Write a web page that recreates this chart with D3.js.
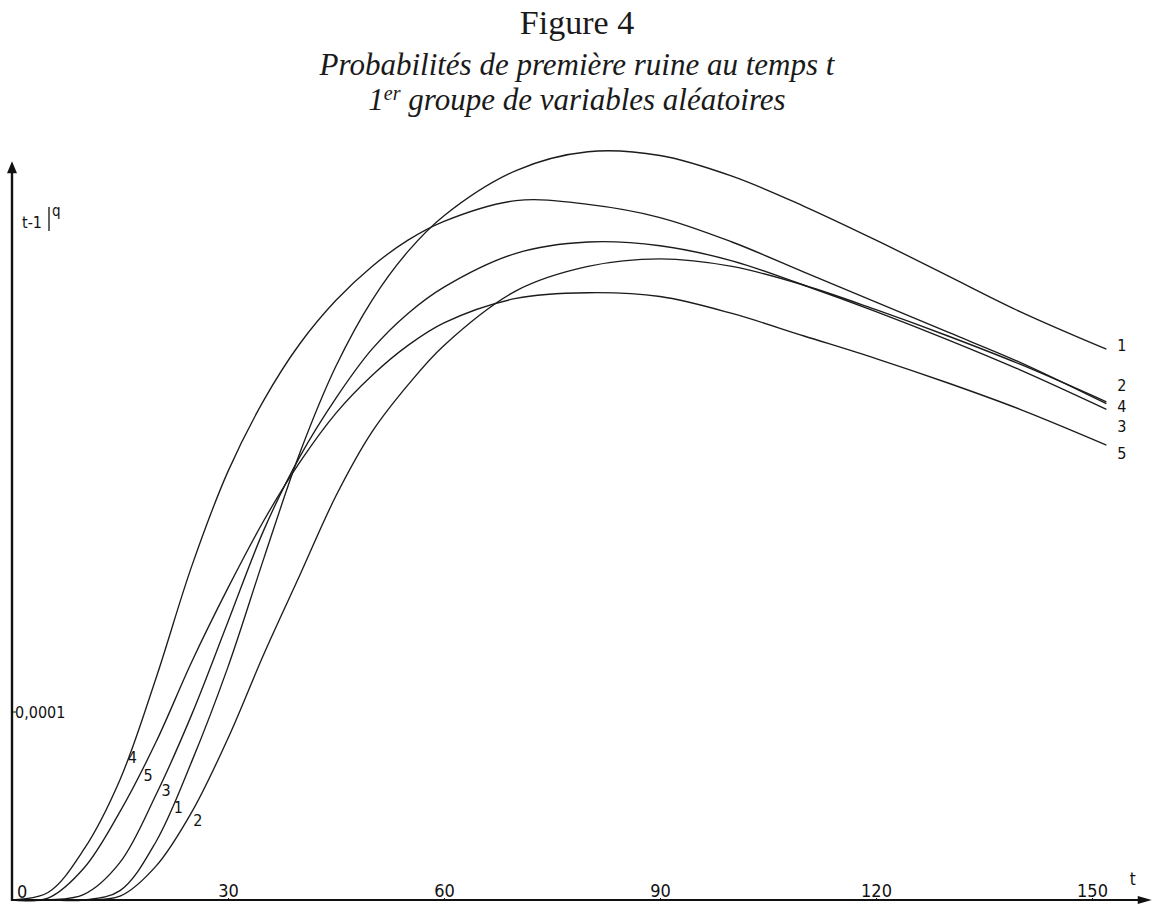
<!DOCTYPE html>
<html>
<head>
<meta charset="utf-8">
<script src="https://cdn.jsdelivr.net/npm/d3@7"></script>
<style>
  body { margin: 0; background: #fff; }
  svg { display: block; }
  .num { font-family: "Liberation Sans Narrow", "DejaVu Sans Condensed", sans-serif; fill: #111; }
  .ttl { font-family: "Liberation Serif", "Times New Roman", serif; fill: #1a1a1a; }
</style>
</head>
<body>
<svg id="chart" width="1154" height="904"></svg>
<script>
// t values shared by every curve
const tGrid = [0, 5, 10, 15, 20, 25, 30, 35, 40, 45, 50, 55, 60, 70, 80, 90, 100, 110, 120, 130, 140, 152];

// values in units of 0,0001
const curve1 = [0, 0, 0, 0.05, 0.31, 0.74, 1.24, 1.82, 2.38, 2.84, 3.19, 3.45, 3.64, 3.88, 3.98, 3.96, 3.85, 3.69, 3.51, 3.32, 3.13, 2.93];
const curve2 = [0, 0, 0, 0.02, 0.18, 0.47, 0.86, 1.31, 1.73, 2.15, 2.49, 2.74, 2.95, 3.24, 3.37, 3.41, 3.37, 3.27, 3.14, 3.00, 2.85, 2.65];
const curve3 = [0, 0, 0.03, 0.20, 0.56, 0.99, 1.48, 1.97, 2.36, 2.67, 2.93, 3.12, 3.26, 3.44, 3.50, 3.48, 3.40, 3.27, 3.13, 2.98, 2.82, 2.61];
const curve4 = [0, 0.04, 0.27, 0.64, 1.18, 1.78, 2.28, 2.66, 2.96, 3.19, 3.37, 3.51, 3.61, 3.72, 3.70, 3.63, 3.50, 3.34, 3.18, 3.02, 2.86, 2.64];
const curve5 = [0, 0.01, 0.17, 0.47, 0.84, 1.27, 1.66, 2.02, 2.33, 2.59, 2.79, 2.95, 3.07, 3.20, 3.23, 3.21, 3.12, 3.00, 2.88, 2.75, 2.61, 2.42];

const seriesNames = ["1", "2", "3", "4", "5"];
const seriesValues = [curve1, curve2, curve3, curve4, curve5];

const xTicks = [30, 60, 90, 120, 150];
const yTicks = [1];
const yTickLabels = ["0,0001"];

// label anchors in data coordinates [t, value]
const endLabels = { "1": [153.5, 2.95], "2": [153.5, 2.74], "4": [153.5, 2.63], "3": [153.5, 2.52], "5": [153.5, 2.38] };
const startLabels = { "4": [16.7, 0.76], "5": [18.9, 0.665], "3": [21.4, 0.585], "1": [23.1, 0.495], "2": [25.8, 0.425] };

const svg = d3.select("#chart");

const x = d3.scaleLinear().domain([0, 150]).range([12, 1092]);
const y = d3.scaleLinear().domain([0, 1]).range([900, 712]);

const xEnd = 158.3;   // where the t axis stops
const yEnd = 3.93;    // where the q axis stops

// titles
svg.append("text").attr("class", "ttl")
  .attr("x", 577).attr("y", 34)
  .attr("text-anchor", "middle")
  .style("font-size", "34px")
  .text("Figure 4");

svg.append("text").attr("class", "ttl")
  .attr("x", 577).attr("y", 75)
  .attr("text-anchor", "middle")
  .style("font-size", "31px").style("font-style", "italic")
  .text("Probabilités de première ruine au temps t");

const sub = svg.append("text").attr("class", "ttl")
  .attr("x", 577).attr("y", 110)
  .attr("text-anchor", "middle")
  .style("font-size", "31px").style("font-style", "italic");
sub.append("tspan").text("1");
sub.append("tspan").attr("dy", -10).style("font-size", "20px").text("er");
sub.append("tspan").attr("dy", 10).text(" groupe de variables aléatoires");

// curves
const line = d3.line()
  .x((d, i) => x(tGrid[i]))
  .y(d => y(d))
  .curve(d3.curveCatmullRom.alpha(0.5));

svg.append("g")
  .attr("class", "curves")
  .selectAll("path")
  .data(seriesValues)
  .enter()
  .append("path")
  .attr("d", d => line(d))
  .style("fill", "none")
  .style("stroke", "#1c1c1c")
  .style("stroke-width", 1.35);

// axes
const axes = svg.append("g").attr("class", "axes");

axes.append("line")
  .attr("x1", x(0)).attr("y1", y(0))
  .attr("x2", x(xEnd) - 6).attr("y2", y(0))
  .style("stroke", "#111").style("stroke-width", 2.2);

axes.append("path")
  .attr("d", `M${x(xEnd)},${y(0)} L${x(xEnd) - 14},${y(0) - 4} L${x(xEnd) - 14},${y(0) + 4} Z`)
  .style("fill", "#111");

axes.append("line")
  .attr("x1", x(0)).attr("y1", y(0) + 1)
  .attr("x2", x(0)).attr("y2", y(yEnd) + 8)
  .style("stroke", "#111").style("stroke-width", 2.4);

axes.append("path")
  .attr("d", `M${x(0)},${y(yEnd)} L${x(0) - 5},${y(yEnd) + 12} L${x(0) + 5},${y(yEnd) + 12} Z`)
  .style("fill", "#111");

const xAxis = d3.axisTop(x)
  .tickValues(xTicks)
  .tickSize(3)
  .tickPadding(1)
  .tickFormat(d3.format("d"));

const gx = axes.append("g")
  .attr("transform", "translate(0," + (y(0) + 1) + ")")
  .call(xAxis);
gx.select(".domain").remove();
gx.selectAll(".tick line").style("stroke", "#111");
gx.selectAll("text")
  .attr("class", "num")
  .style("font-size", "18px");

axes.append("text").attr("class", "num")
  .attr("x", x(0) + 5).attr("y", y(0) - 2)
  .style("font-size", "18px")
  .text("0");

axes.append("text").attr("class", "num")
  .attr("x", x(xEnd) - 22).attr("y", y(0) - 15)
  .style("font-size", "17px")
  .text("t");

const gy = axes.append("g").selectAll("g")
  .data(yTicks)
  .enter()
  .append("g");
gy.append("line")
  .attr("x1", x(0)).attr("x2", x(0) + 4)
  .attr("y1", d => y(d)).attr("y2", d => y(d))
  .style("stroke", "#111");
gy.append("text").attr("class", "num")
  .attr("x", x(0) + 3).attr("y", d => y(d) + 6)
  .style("font-size", "16px")
  .text((d, i) => yTickLabels[i]);

// y label  t-1|q
axes.append("text").attr("class", "num")
  .attr("x", 22).attr("y", 228)
  .style("font-size", "16px")
  .text("t-1");
axes.append("line")
  .attr("x1", 49).attr("x2", 49)
  .attr("y1", 207).attr("y2", 231)
  .style("stroke", "#111").style("stroke-width", 1.3);
axes.append("text").attr("class", "num")
  .attr("x", 52).attr("y", 216)
  .style("font-size", "15px")
  .text("q");

// curve labels
const labels = svg.append("g").attr("class", "labels");

labels.selectAll(".end")
  .data(Object.entries(endLabels))
  .enter()
  .append("text").attr("class", "num end")
  .attr("x", d => x(d[1][0]))
  .attr("y", d => y(d[1][1]) + 6)
  .style("font-size", "16px")
  .text(d => d[0]);

labels.selectAll(".start")
  .data(Object.entries(startLabels))
  .enter()
  .append("text").attr("class", "num start")
  .attr("x", d => x(d[1][0]))
  .attr("y", d => y(d[1][1]) + 6)
  .attr("text-anchor", "middle")
  .style("font-size", "16px")
  .text(d => d[0]);
</script>
</body>
</html>
